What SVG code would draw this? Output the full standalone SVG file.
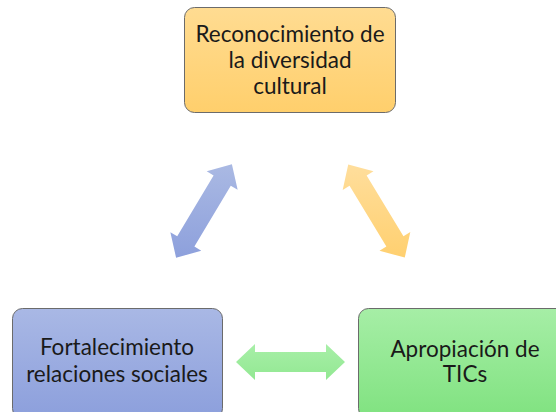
<svg xmlns="http://www.w3.org/2000/svg" width="556" height="412" viewBox="0 0 556 412">
<defs>
<linearGradient id="gO" x1="0" y1="0" x2="0" y2="1"><stop offset="0" stop-color="#FFDC92"/><stop offset="1" stop-color="#FFCF6C"/></linearGradient>
<linearGradient id="gB" x1="0" y1="0" x2="0" y2="1"><stop offset="0" stop-color="#A9B8E5"/><stop offset="1" stop-color="#8C9FDC"/></linearGradient>
<linearGradient id="gG" x1="0" y1="0" x2="0" y2="1"><stop offset="0" stop-color="#A6EEA6"/><stop offset="1" stop-color="#80E280"/></linearGradient>
<linearGradient id="aB" x1="0" y1="0" x2="0" y2="1"><stop offset="0" stop-color="#AAB9E3"/><stop offset="1" stop-color="#8DA0DC"/></linearGradient>
<linearGradient id="aO" x1="0" y1="0" x2="0" y2="1"><stop offset="0" stop-color="#FFDE9C"/><stop offset="1" stop-color="#FFD070"/></linearGradient>
<linearGradient id="aG" x1="0" y1="0" x2="0" y2="1"><stop offset="0" stop-color="#A8EFA8"/><stop offset="1" stop-color="#92E892"/></linearGradient>
</defs>
<style>
.box{stroke:#6b6b6b;stroke-width:1}
.t{font-family:Lato,"Liberation Sans",sans-serif;font-size:22.5px;fill:#1a1a1a;text-anchor:middle}
</style>
<g id="connectors">
<path fill="url(#aB)" d="M176.1,257.8 L201.28,250.71 L194.41,246.61 L230.77,185.63 L237.64,189.73 L231.9,164.2 L206.72,171.29 L213.59,175.39 L177.23,236.37 L170.36,232.27 Z"/>
<path fill="url(#aO)" d="M348.24,164.39 L373.49,171.31 L366.64,175.45 L403.46,236.17 L410.31,232.03 L404.76,257.61 L379.51,250.69 L386.36,246.55 L349.54,185.83 L342.69,189.97 Z"/>
<path fill="url(#aG)" d="M236,362 L255,344 L255,352 L326,352 L326,344 L345,362 L326,380 L326,372 L255,372 L255,380 Z"/>
</g>
<g id="node-top">
<rect class="box" x="184.5" y="7.5" width="211" height="105" rx="10" fill="url(#gO)"/>
<text class="t" x="290" y="42">Reconocimiento de</text>
<text class="t" x="290" y="68">la diversidad</text>
<text class="t" x="290" y="94">cultural</text>
</g>
<g id="node-left">
<rect class="box" x="12.5" y="308.5" width="210" height="110" rx="10" fill="url(#gB)"/>
<text class="t" x="117" y="355">Fortalecimiento</text>
<text class="t" x="117" y="382">relaciones sociales</text>
</g>
<g id="node-right">
<rect class="box" x="358.5" y="308.5" width="210" height="110" rx="10" fill="url(#gG)"/>
<text class="t" x="465" y="357">Apropiación de</text>
<text class="t" x="465" y="382">TICs</text>
</g>
</svg>
